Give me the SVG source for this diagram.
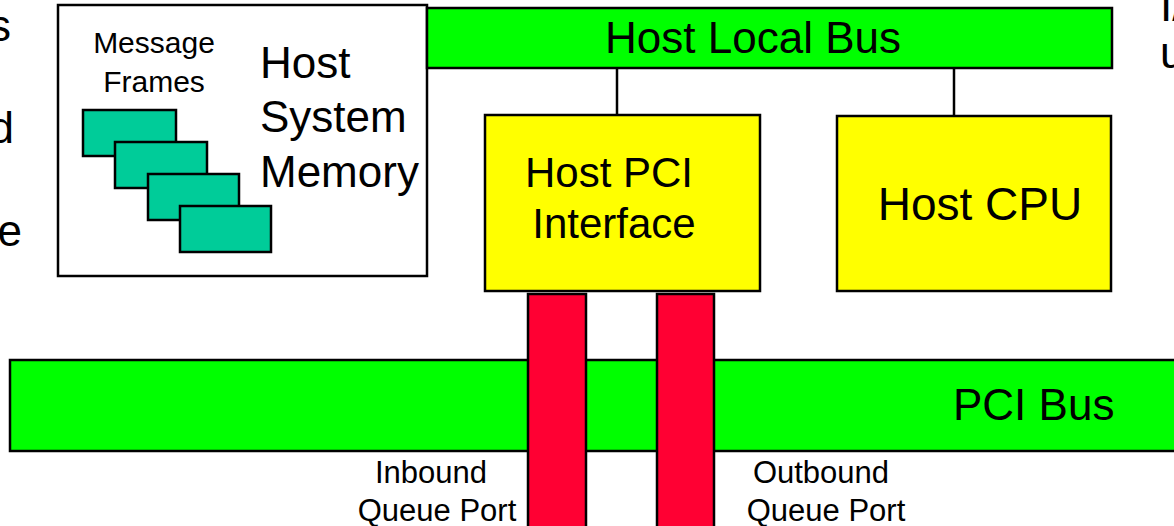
<svg xmlns="http://www.w3.org/2000/svg" width="1174" height="526" viewBox="0 0 1174 526">
<style>
text{font-family:"Liberation Sans",Arial,sans-serif;fill:#000}
.box{stroke:#000;stroke-width:2.5}
.mem{fill:#fff}
.frame{fill:#00CC99}
.bus{fill:#00FF00}
.blk{fill:#FFFF00}
.port{fill:#FF0033}
.conn{stroke:#000;stroke-width:2.5;fill:none}
.mid{text-anchor:middle}
</style>
<rect width="1174" height="526" fill="#fff"/>
<g id="edge-text">
<text x="11" y="41" font-size="44" text-anchor="end">s</text>
<text x="14" y="143" font-size="44" text-anchor="end">d</text>
<text x="22" y="246" font-size="44" text-anchor="end">e</text>
<text x="1160" y="21" font-size="44">I/</text>
<text x="1160" y="68" font-size="44">u</text>
</g>
<g id="host-system-memory">
<rect class="box mem" x="58" y="5" width="369" height="271"/>
<text x="154" y="53" font-size="30" class="mid">Message</text>
<text x="154" y="92" font-size="30" class="mid">Frames</text>
<rect class="box frame" x="83" y="110" width="93" height="46"/>
<rect class="box frame" x="115" y="142" width="92" height="46"/>
<rect class="box frame" x="148" y="174" width="91" height="46"/>
<rect class="box frame" x="180" y="206" width="91" height="46"/>
<text x="260" y="78" font-size="44">Host</text>
<text x="260" y="132" font-size="44">System</text>
<text x="260" y="187" font-size="44">Memory</text>
</g>
<g id="host-local-bus">
<rect class="box bus" x="427" y="8" width="685" height="60"/>
<text x="753" y="53" font-size="44" class="mid">Host Local Bus</text>
</g>
<g id="host-pci-interface">
<rect class="box blk" x="485" y="115" width="275" height="176"/>
<text x="609" y="187" font-size="42" class="mid">Host PCI</text>
<text x="614" y="238" font-size="42" class="mid">Interface</text>
</g>
<g id="host-cpu">
<rect class="box blk" x="837" y="116" width="274" height="175"/>
<text x="980" y="220" font-size="46" class="mid">Host CPU</text>
</g>
<g id="pci-bus">
<rect class="box bus" x="10" y="360" width="1180" height="91"/>
<text x="953" y="420" font-size="44">PCI Bus</text>
</g>
<g id="inbound-queue-port">
<rect class="box port" x="528" y="294" width="58" height="240"/>
<text x="431" y="483" font-size="31" class="mid">Inbound</text>
<text x="437" y="521" font-size="31" class="mid">Queue Port</text>
</g>
<g id="outbound-queue-port">
<rect class="box port" x="657" y="294" width="57" height="240"/>
<text x="821" y="483" font-size="31" class="mid">Outbound</text>
<text x="826" y="521" font-size="31" class="mid">Queue Port</text>
</g>
<g id="connectors">
<line class="conn" x1="617" y1="68" x2="617" y2="115"/>
<line class="conn" x1="954" y1="68" x2="954" y2="116"/>
</g>
</svg>
